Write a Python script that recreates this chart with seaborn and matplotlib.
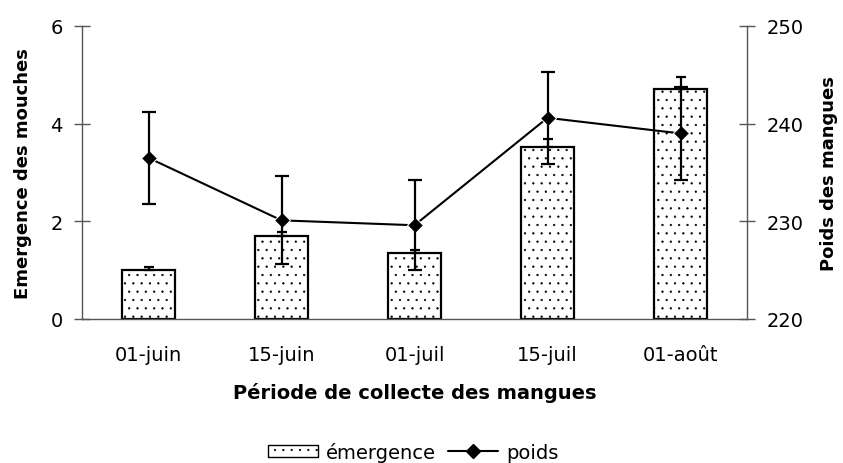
import matplotlib
matplotlib.use("Agg")
import matplotlib.pyplot as plt
import seaborn as sns
import numpy as np
from matplotlib.patches import Patch
from matplotlib.lines import Line2D

# data
periodes = ["01-juin", "15-juin", "01-juil", "15-juil", "01-août"]
emergence = [1.0, 1.69, 1.35, 3.52, 4.72]
emergence_err = [0.06, 0.10, 0.07, 0.17, 0.23]
poids = [236.5, 230.1, 229.6, 240.6, 239.0]
poids_err = [4.7, 4.5, 4.6, 4.7, 4.75]

sns.set_style("white")
plt.rcParams["font.family"] = ["DejaVu Sans"]
plt.rcParams["text.color"] = "black"
plt.rcParams["axes.labelcolor"] = "black"
plt.rcParams["xtick.color"] = "black"
plt.rcParams["ytick.color"] = "black"
plt.rcParams["hatch.linewidth"] = 0.4
plt.rcParams["hatch.color"] = "#666666"

fig = plt.figure(figsize=(8.43, 4.64), dpi=100)
ax = fig.add_axes([82 / 843, 144 / 464, 665 / 843, 293 / 464])

sns.barplot(x=periodes, y=emergence, color="white", edgecolor="black",
            linewidth=1.6, width=0.4, ax=ax, zorder=2)
for p in ax.patches:
    p.set_hatch("..")
x = np.arange(len(periodes))
ax.errorbar(x, emergence, yerr=[np.zeros(len(x)), emergence_err], fmt="none",
            ecolor="black", elinewidth=1.6, capsize=3.6, capthick=1.6, zorder=3)

ax.set_xlim(-0.5, 4.5)
ax.set_ylim(0, 6)
ax.set_yticks([0, 2, 4, 6])
ax.set_xticks(x)
ax.set_xticklabels(periodes)
ax.set_xticks(np.arange(-0.5, 5, 1), minor=True)
ax.tick_params(axis="x", which="major", length=0, labelsize=14, pad=19)
ax.tick_params(axis="x", which="minor", length=12, direction="inout",
               width=1, color="#555555")
ax.tick_params(axis="y", length=12, direction="inout", width=1,
               color="#555555", labelcolor="black", labelsize=14, pad=8)
ax.set_ylabel("Emergence des mouches", fontsize=13, fontweight="bold", labelpad=13)
ax.set_xlabel("Période de collecte des mangues", fontsize=14,
              fontweight="bold", labelpad=13)
for s in ["top", "right"]:
    ax.spines[s].set_visible(False)
for s in ["left", "bottom"]:
    ax.spines[s].set_color("#555555")
    ax.spines[s].set_linewidth(1)

ax2 = ax.twinx()
sns.lineplot(x=x, y=poids, color="black", marker="D", markersize=8,
             linewidth=1.5, ax=ax2, zorder=4)
ax2.errorbar(x, poids, yerr=poids_err, fmt="none", ecolor="black",
             elinewidth=1.6, capsize=5, capthick=1.6, zorder=4)
ax2.set_ylim(220, 250)
ax2.set_yticks([220, 230, 240, 250])
ax2.tick_params(axis="y", length=12, direction="inout", width=1,
                color="#555555", labelcolor="black", labelsize=14, pad=8)
ax2.set_ylabel("Poids des mangues", fontsize=13, fontweight="bold", labelpad=12)
for s in ["top", "left", "bottom"]:
    ax2.spines[s].set_visible(False)
ax2.spines["right"].set_color("#555555")
ax2.spines["right"].set_linewidth(1)

handles = [Patch(facecolor="white", edgecolor="black", hatch="..", label="émergence"),
           Line2D([], [], color="black", marker="D", markersize=7, label="poids")]
fig.legend(handles=handles, loc="center", bbox_to_anchor=(0.49, 0.024), ncol=2,
           frameon=False, fontsize=14, handlelength=2.6, handleheight=0.6,
           columnspacing=0.6, handletextpad=0.4)

fig.savefig("out.png", dpi=100)
